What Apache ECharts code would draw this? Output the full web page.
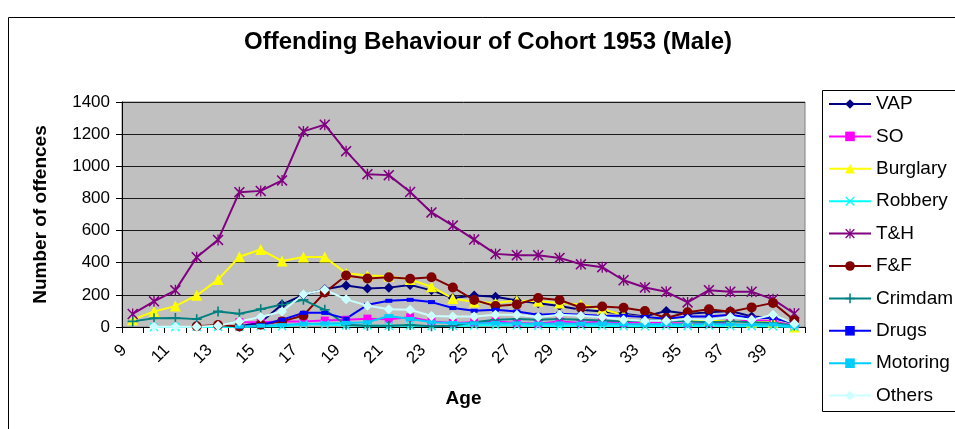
<!DOCTYPE html>
<html>
<head>
<meta charset="utf-8">
<title>Offending Behaviour of Cohort 1953 (Male)</title>
<script src="https://cdn.jsdelivr.net/npm/echarts@6/dist/echarts.min.js"></script>
<style>
  html, body { margin: 0; padding: 0; background: #ffffff; }
  #chart { width: 955px; height: 429px; }
</style>
</head>
<body>
<div id="chart"></div>
<script>
// Ages on the category axis (9 to 40)
const ages = ['9','10','11','12','13','14','15','16','17','18','19','20','21','22','23','24',
              '25','26','27','28','29','30','31','32','33','34','35','36','37','38','39','40'];

// Number of offences per age, one array per offence type
const vap      = [null,null,null,null,null,3,30,140,200,235,258,240,245,262,228,180,196,188,165,148,130,107,97,82,66,100,82,91,100,66,58,25];
const so       = [null,null,null,null,null,30,30,35,35,40,45,52,48,60,35,25,29,35,25,21,35,25,35,25,29,25,21,25,25,45,35,8];
const burglary = [45,97,130,197,295,437,482,410,435,435,334,320,316,295,250,178,155,150,165,160,150,140,110,75,60,50,45,40,35,30,30,0];
const robbery  = [null,0,0,0,0,0,5,5,15,15,10,10,8,10,5,8,10,12,10,8,5,10,8,5,5,8,5,10,5,5,5,0];
const theft    = [81,160,228,434,542,839,847,912,1217,1259,1094,951,945,840,713,631,544,455,447,447,430,390,372,291,246,219,153,229,220,220,172,84];
const fraud    = [null,null,null,5,12,3,14,35,72,215,320,302,310,300,310,246,168,130,140,180,168,121,128,120,100,56,92,110,95,122,150,42];
const crimdam  = [35,54,56,49,97,82,111,140,169,107,14,8,8,12,5,8,30,45,50,45,50,45,40,35,40,40,35,30,35,30,25,10];
const drugs    = [null,null,null,null,null,3,12,45,88,88,52,138,163,169,155,118,101,107,97,76,82,76,70,70,62,52,66,66,76,56,56,25];
const motoring = [null,null,null,null,null,3,8,12,20,22,25,30,68,50,30,25,22,25,22,20,22,20,22,18,15,18,15,18,15,15,15,5];
const others   = [null,2,2,2,8,35,62,97,204,232,172,133,111,107,68,66,66,76,76,62,76,70,62,45,39,39,49,45,62,45,76,21];

// Y axis scale
const yMin = 0, yMax = 1400, yStep = 200;

// Marker outlines (filled polygons)
const crossPath    = 'path://M0,1 L1,0 L5,4 L9,0 L10,1 L6,5 L10,9 L9,10 L5,6 L1,10 L0,9 L4,5 Z';
const asteriskPath = 'path://M0,1 L1,0 L5,4 L9,0 L10,1 L6,5 L10,9 L9,10 L5,6 L1,10 L0,9 L4,5 Z M4.4,0 L5.6,0 L5.6,10 L4.4,10 Z';
const plusPath     = 'path://M4.2,0 L5.8,0 L5.8,4.2 L10,4.2 L10,5.8 L5.8,5.8 L5.8,10 L4.2,10 L4.2,5.8 L0,5.8 L0,4.2 L4.2,4.2 Z';

const FONT = '"Liberation Sans", Arial, sans-serif';

function lineSeries(name, data, color, symbol, size) {
  return {
    name: name,
    type: 'line',
    data: data,
    symbol: symbol,
    symbolSize: size,
    showSymbol: true,
    showAllSymbol: true,
    connectNulls: false,
    lineStyle: { color: color, width: 2 },
    itemStyle: { color: color, borderWidth: 0 },
    emphasis: { disabled: true }
  };
}

const chart = echarts.init(document.getElementById('chart'), null, { renderer: 'canvas' });

chart.setOption({
  animation: false,
  backgroundColor: '#ffffff',
  textStyle: { fontFamily: FONT },
  title: {
    text: 'Offending Behaviour of Cohort 1953 (Male)',
    left: 244,
    top: 30,
    padding: 0,
    textStyle: { fontFamily: FONT, fontSize: 24, fontWeight: 'bold', color: '#000' }
  },
  graphic: [
    {
      type: 'rect',
      shape: { x: 8.5, y: 17.5, width: 960, height: 430 },
      style: { fill: 'none', stroke: '#000', lineWidth: 1 },
      silent: true,
      z: -1
    },
    {
      type: 'rect',
      shape: { x: 822.5, y: 90.5, width: 150, height: 321 },
      style: { fill: '#ffffff', stroke: '#000', lineWidth: 1 },
      silent: true,
      z: 0
    }
  ],
  legend: {
    orient: 'vertical',
    left: 828,
    top: 94,
    padding: 0,
    itemWidth: 42,
    itemHeight: 12,
    itemGap: 12.4,
    z: 5,
    textStyle: { fontFamily: FONT, fontSize: 19, color: '#000', lineHeight: 20 },
    data: ['VAP','SO','Burglary','Robbery','T&H','F&F','Crimdam','Drugs','Motoring','Others']
  },
  grid: {
    left: 122,
    right: 150,
    top: 102,
    bottom: 102,
    show: true,
    backgroundColor: '#C0C0C0',
    borderColor: '#808080',
    borderWidth: 1
  },
  xAxis: {
    type: 'category',
    data: ages,
    boundaryGap: true,
    name: 'Age',
    nameLocation: 'middle',
    nameGap: 62,
    nameTextStyle: { fontFamily: FONT, fontSize: 19, fontWeight: 'bold', color: '#000' },
    axisLine: { show: true, lineStyle: { color: '#000', width: 1 } },
    axisTick: { show: true, interval: 0, length: 6, lineStyle: { color: '#000' } },
    axisLabel: { interval: 1, rotate: 45, margin: 12, padding: [0, 12, 0, 0], fontFamily: FONT, fontSize: 17, color: '#000' },
    splitLine: { show: false }
  },
  yAxis: {
    type: 'value',
    min: yMin,
    max: yMax,
    interval: yStep,
    name: 'Number of offences',
    nameLocation: 'middle',
    nameGap: 72,
    nameTextStyle: { fontFamily: FONT, fontSize: 19, fontWeight: 'bold', color: '#000' },
    axisLine: { show: true, lineStyle: { color: '#000', width: 1 } },
    axisTick: { show: true, length: 6, lineStyle: { color: '#000' } },
    axisLabel: { margin: 12, fontFamily: FONT, fontSize: 17, color: '#000', formatter: function (v) { return String(v); } },
    splitLine: { show: true, lineStyle: { color: '#1a1a1a', width: 1 } }
  },
  series: [
    lineSeries('VAP',      vap,      '#000080', 'diamond',    10),
    lineSeries('SO',       so,       '#FF00FF', 'rect',        8),
    lineSeries('Burglary', burglary, '#FFFF00', 'triangle',   11),
    lineSeries('Robbery',  robbery,  '#00FFFF', crossPath,     9),
    lineSeries('T&H',      theft,    '#800080', asteriskPath, 11),
    lineSeries('F&F',      fraud,    '#800000', 'circle',     10),
    lineSeries('Crimdam',  crimdam,  '#008080', plusPath,     10),
    lineSeries('Drugs',    drugs,    '#0000FF', 'rect',   [7, 4]),
    lineSeries('Motoring', motoring, '#00CCFF', 'rect',   [9, 4]),
    lineSeries('Others',   others,   '#CCFFFF', 'diamond',    10)
  ]
});
</script>
</body>
</html>
